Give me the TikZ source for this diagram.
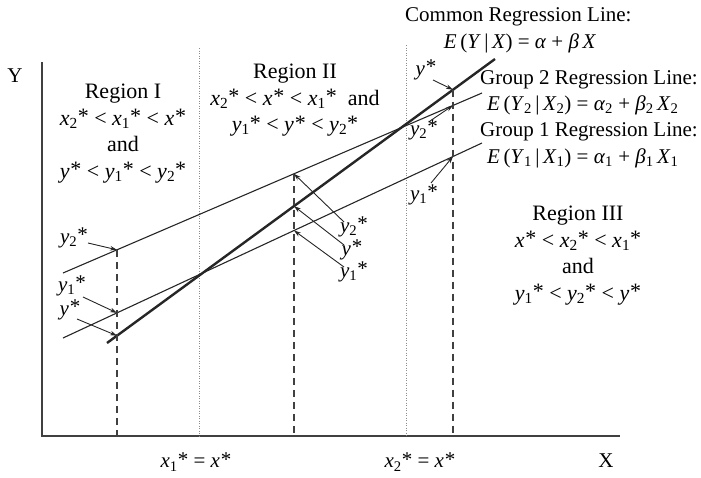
\documentclass[tikz,border=0pt]{standalone}
\usepackage{fontspec}
\setmainfont{Liberation Serif}
\usetikzlibrary{arrows.meta}
\newcommand{\stR}{\raisebox{0.06em}{*}}
\newcommand{\vx}[2]{\textit{#1}\textsubscript{#2}\stR}
\newcommand{\vz}[1]{\textit{#1}\kern0.04em\stR}
\begin{document}
\begin{tikzpicture}[x=1pt,y=-1pt,
  axisline/.style={line width=1.8pt,black!75},
  regline/.style={line width=1.1pt,black!85},
  comline/.style={line width=2.4pt,black!85},
  dashln/.style={line width=1.2pt,black!75,dash pattern=on 7pt off 5pt},
  dotln/.style={line width=0.8pt,black!45,dash pattern=on 1pt off 1.5pt},
  arr/.style={line width=0.9pt,black!85,-{Stealth[length=7pt,width=4.5pt]}},
  lbl/.style={inner sep=0pt,font=\fontsize{21}{25}\selectfont},
  reg/.style={inner sep=0pt,align=center,font=\fontsize{22}{26.5}\selectfont},
  sm/.style={inner sep=0pt,font=\fontsize{21}{25}\selectfont}]
\useasboundingbox (0,0) rectangle (701,477);
% axes
\coordinate (O) at (42,436);
\coordinate (ytop) at (42,62);
\coordinate (xend) at (620,436);
\draw[axisline] (ytop) -- (O) -- (xend);
\node[sm] (Ylab) at (15,76) {Y};
\node[sm] (Xlab) at (606,461) {X};
% region separators
\coordinate (d1t) at (199,48);
\coordinate (d1b) at (199,436);
\coordinate (d2t) at (406,45);
\coordinate (d2b) at (406,436);
\draw[dotln] (d1t) -- (d1b);
\draw[dotln] (d2t) -- (d2b);
% regression lines
\coordinate (g2s) at (63,273);
\coordinate (g2e) at (482,93);
\coordinate (g1s) at (63,338);
\coordinate (g1e) at (482,143);
\coordinate (cs) at (107,343);
\coordinate (ce) at (495,59);
\draw[regline] (g2s) -- (g2e);
\draw[regline] (g1s) -- (g1e);
\draw[comline] (cs) -- (ce);
% points on lines
\coordinate (pa2) at (117,249.8);
\coordinate (pa1) at (117,312.9);
\coordinate (pa0) at (117,335.7);
\coordinate (pb2) at (294,173.8);
\coordinate (pb1) at (294,230.5);
\coordinate (pb0) at (294,206.1);
\coordinate (pc2) at (453,105.4);
\coordinate (pc1) at (453,156.5);
\coordinate (pc0) at (453,89.7);
% dashed verticals
\draw[dashln] (pa2) -- (pa2 |- O);
\draw[dashln] (pb2) -- (pb2 |- O);
\draw[dashln] (pc0) -- (pc0 |- O);
% left labels and arrows
\node[lbl] (la2) at (74,238) {\vx{y}{2}};
\node[lbl] (la1) at (72,286) {\vx{y}{1}};
\node[lbl] (la0) at (70,310) {\vz{y}};
\coordinate (sa2) at (88,243);
\coordinate (sa1) at (83,297);
\coordinate (sa0) at (77,319);
\draw[arr] (sa2) -- (pa2);
\draw[arr] (sa1) -- (pa1);
\draw[arr] (sa0) -- (pa0);
% middle labels and arrows
\node[lbl] (lb2) at (354,227) {\vx{y}{2}};
\node[lbl] (lb0) at (352,250) {\vz{y}};
\node[lbl] (lb1) at (354,272) {\vx{y}{1}};
\coordinate (sb2) at (344,222);
\coordinate (sb0) at (344,245);
\coordinate (sb1) at (344,267);
\draw[arr] (sb2) -- (pb2);
\draw[arr] (sb0) -- (pb0);
\draw[arr] (sb1) -- (pb1);
% right labels and arrows
\node[lbl] (lc0) at (426,70) {\vz{y}};
\node[lbl] (lc2) at (424,130) {\vx{y}{2}};
\node[lbl] (lc1) at (424,195) {\vx{y}{1}};
\coordinate (sc0) at (433,80);
\coordinate (sc2) at (430,121);
\coordinate (sc1) at (431,183);
\draw[arr] (sc0) -- (pc0);
\draw[arr] (sc2) -- (pc2);
\draw[arr] (sc1) -- (pc1);
% line labels
\node[lbl,anchor=west] (tc1) at (405,17) {Common Regression Line:};
\node[lbl] (tc2) at (520,43) {\textit{E}\,(\textit{Y}\,|\,\textit{X}) = \textit{α} + \textit{β}\,\textit{X}};
\node[lbl,anchor=west] (tg21) at (480,80) {Group 2 Regression Line:};
\node[lbl,anchor=west] (tg22) at (487,105) {\textit{E}\,(\textit{Y}\textsubscript{2}\,|\,\textit{X}\textsubscript{2}) = \textit{α}\textsubscript{2} + \textit{β}\textsubscript{2}\,\textit{X}\textsubscript{2}};
\node[lbl,anchor=west] (tg11) at (480,132) {Group 1 Regression Line:};
\node[lbl,anchor=west] (tg12) at (487,158) {\textit{E}\,(\textit{Y}\textsubscript{1}\,|\,\textit{X}\textsubscript{1}) = \textit{α}\textsubscript{1} + \textit{β}\textsubscript{1}\,\textit{X}\textsubscript{1}};
% regions
\node[reg,anchor=north] (r1) at (123,84) {Region I\\ \vx{x}{2} < \vx{x}{1} < \vz{x}\\ and\\ \vz{y} < \vx{y}{1} < \vx{y}{2}};
\node[reg,anchor=north] (r2) at (295,64) {Region II\\ \vx{x}{2} < \vz{x} < \vx{x}{1}~~and\\ \vx{y}{1} < \vz{y} < \vx{y}{2}};
\node[reg,anchor=north] (r3) at (578,206) {Region III\\ \vz{x} < \vx{x}{2} < \vx{x}{1}\\ and\\ \vx{y}{1} < \vx{y}{2} < \vz{y}};
% bottom labels
\node[lbl] (bx1) at (196,462) {\vx{x}{1} = \vz{x}};
\node[lbl] (bx2) at (420,462) {\vx{x}{2} = \vz{x}};
\end{tikzpicture}
\end{document}
